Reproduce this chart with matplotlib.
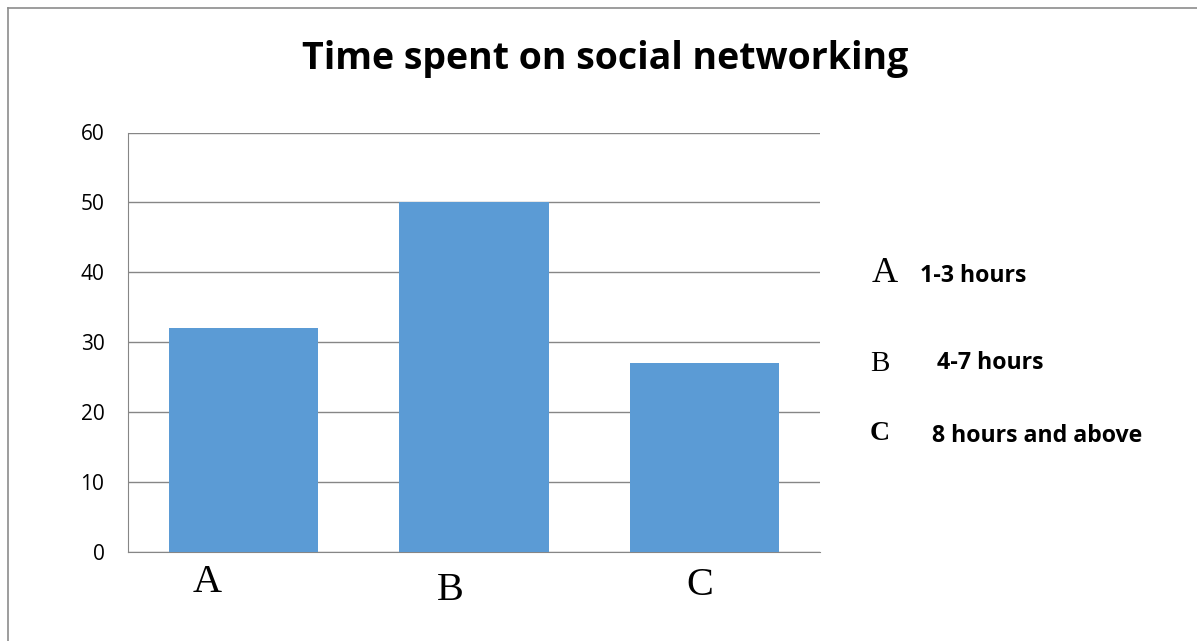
import matplotlib.pyplot as plt
from matplotlib.lines import Line2D

# chart data
categories = ['A', 'B', 'C']
values = [32, 50, 27]
yticks = [0, 10, 20, 30, 40, 50, 60]
legend_letters = ['A', 'B', 'C']
legend_texts = ['1-3 hours', '4-7 hours', '8 hours and above']

W, H = 1197, 641
fig = plt.figure(figsize=(W / 100, H / 100), dpi=100)
fig.patch.set_facecolor('white')

# outer frame (only top and left edges visible)
fig.add_artist(Line2D([8 / W, 1.0], [1 - 8 / H, 1 - 8 / H], color='#8c8c8c', lw=1.2))
fig.add_artist(Line2D([8 / W, 8 / W], [0.0, 1 - 8 / H], color='#8c8c8c', lw=1.2))

ax = fig.add_axes([128 / W, 1 - 551.5 / H, 692 / W, 419 / H])
x = range(len(categories))
ax.bar(x, values, width=0.646, color='#5B9BD5', zorder=3)
ax.set_xlim(-0.5, len(categories) - 0.5)
ax.set_ylim(0, 60)
ax.set_yticks(yticks)
ax.set_yticklabels([str(v) for v in yticks], fontsize=15, family='Open Sans')
ax.tick_params(axis='y', length=0, pad=17)
ax.set_xticks([])
ax.grid(axis='y', color='#868686', lw=1, zorder=0)
for s in ['top', 'right']:
    ax.spines[s].set_visible(False)
ax.spines['left'].set_color('#868686')
ax.spines['bottom'].set_color('#868686')

# category labels placed under the bars (hand-placed in the original)
offsets = [(-0.157, -0.075), (-0.104, -0.092), (-0.02, -0.08)]
for i, (lab, (dx, dy)) in enumerate(zip(categories, offsets)):
    ax.text(i + dx, dy, lab, transform=ax.get_xaxis_transform(), ha='center', va='center',
            fontsize=29, family='Liberation Serif')

fig.text(605 / W, 1 - 59 / H, 'Time spent on social networking', ha='center', va='center',
         fontsize=27, fontweight='bold', family='Open Sans')

# text legend on the right
letter_pos = [(872, 273, 26, 'normal'), (870, 364, 21, 'normal'), (870, 434, 20, 'bold')]
text_pos = [(920, 276), (937, 363), (932, 436)]
for lab, txt, (lx, ly, ls, lw), (tx, ty) in zip(legend_letters, legend_texts, letter_pos, text_pos):
    fig.text(lx / W, 1 - ly / H, lab, ha='left', va='center', fontsize=ls,
             fontweight=lw, family='Liberation Serif')
    fig.text(tx / W, 1 - ty / H, txt, ha='left', va='center', fontsize=16.7,
             fontweight='bold', family='Open Sans')

fig.savefig('out.png', dpi=100)
